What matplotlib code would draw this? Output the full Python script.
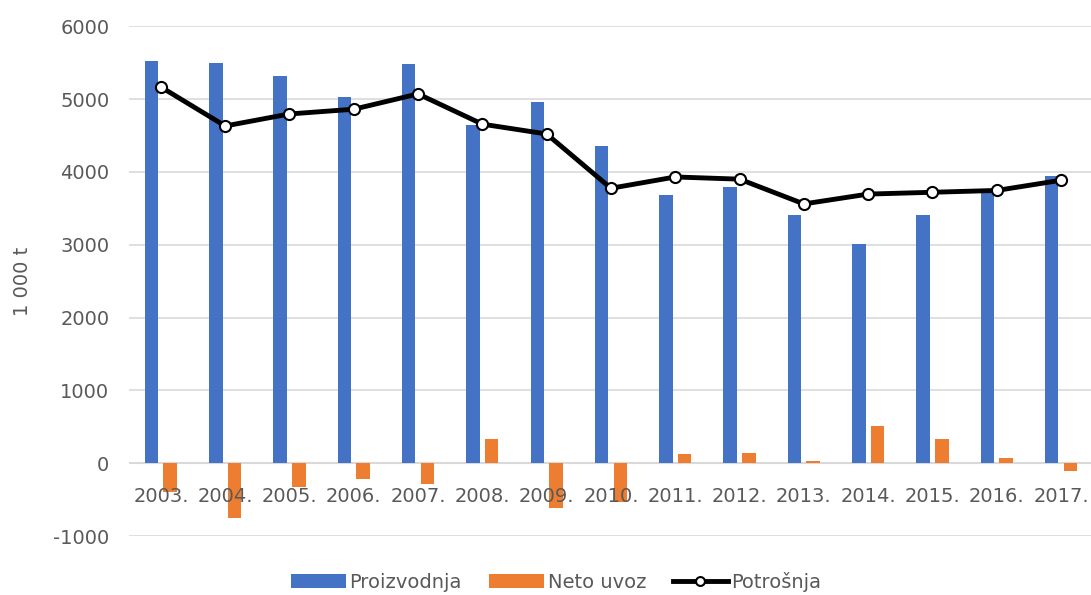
import numpy as np
from matplotlib import pyplot as plt

godine = ["2003.", "2004.", "2005.", "2006.", "2007.", "2008.", "2009.", "2010.",
          "2011.", "2012.", "2013.", "2014.", "2015.", "2016.", "2017."]
proizvodnja = [5520, 5495, 5315, 5030, 5480, 4645, 4960, 4355,
               3680, 3790, 3405, 3010, 3405, 3750, 3940]
neto_uvoz = [-400, -755, -330, -220, -290, 330, -620, -535,
             125, 140, 30, 510, 330, 75, -100]
potrosnja = [5165, 4630, 4795, 4860, 5070, 4655, 4520, 3775,
             3930, 3900, 3560, 3695, 3720, 3745, 3885]

plt.rcParams['font.family'] = ['DejaVu Sans']
plt.rcParams['axes.unicode_minus'] = False
tekst = '#595959'

fig = plt.figure(figsize=(10.91, 5.95), dpi=100)
ax = fig.add_axes([0.118, 0.099, 0.884, 0.857])

x = np.arange(len(godine))
w = 0.21
b1 = ax.bar(x - 0.145, proizvodnja, width=w, color='#4472C4', label='Proizvodnja', zorder=2)
b2 = ax.bar(x + 0.145, neto_uvoz, width=w, color='#ED7D31', label='Neto uvoz', zorder=2)
l1, = ax.plot(x, potrosnja, color='black', linewidth=3.5, marker='o', markersize=8,
              markerfacecolor='white', markeredgecolor='black', markeredgewidth=1.5,
              label='Potrošnja', zorder=3)

ax.set_xlim(-0.5, len(godine) - 0.5)
ax.set_ylim(-1000, 6000)
ax.set_yticks(range(-1000, 6001, 1000))
ax.tick_params(axis='y', labelsize=14, colors=tekst, length=0, pad=14)
ax.set_xticks([])
for xi, g in zip(x, godine):
    ax.text(xi, -460, g, ha='center', va='center', fontsize=14, color=tekst, zorder=4)

ax.grid(axis='y', color='#d9d9d9', linewidth=1.2, zorder=0)
ax.axhline(0, color='#d9d9d9', linewidth=1.5, zorder=1)
for s in ax.spines.values():
    s.set_visible(False)

ax.set_ylabel('1 000 t', fontsize=14, color=tekst)
ax.yaxis.set_label_coords(-0.1, 0.5)

ax.legend(handles=[b1, b2, l1], loc='center', bbox_to_anchor=(0.51, 0.022),
          bbox_transform=fig.transFigure, ncol=3, frameon=False,
          fontsize=14, labelcolor=tekst, handlelength=2.8, handletextpad=0.2,
          columnspacing=1.4, borderpad=0, markerscale=0.8)

plt.savefig('out.png')
plt.close()
